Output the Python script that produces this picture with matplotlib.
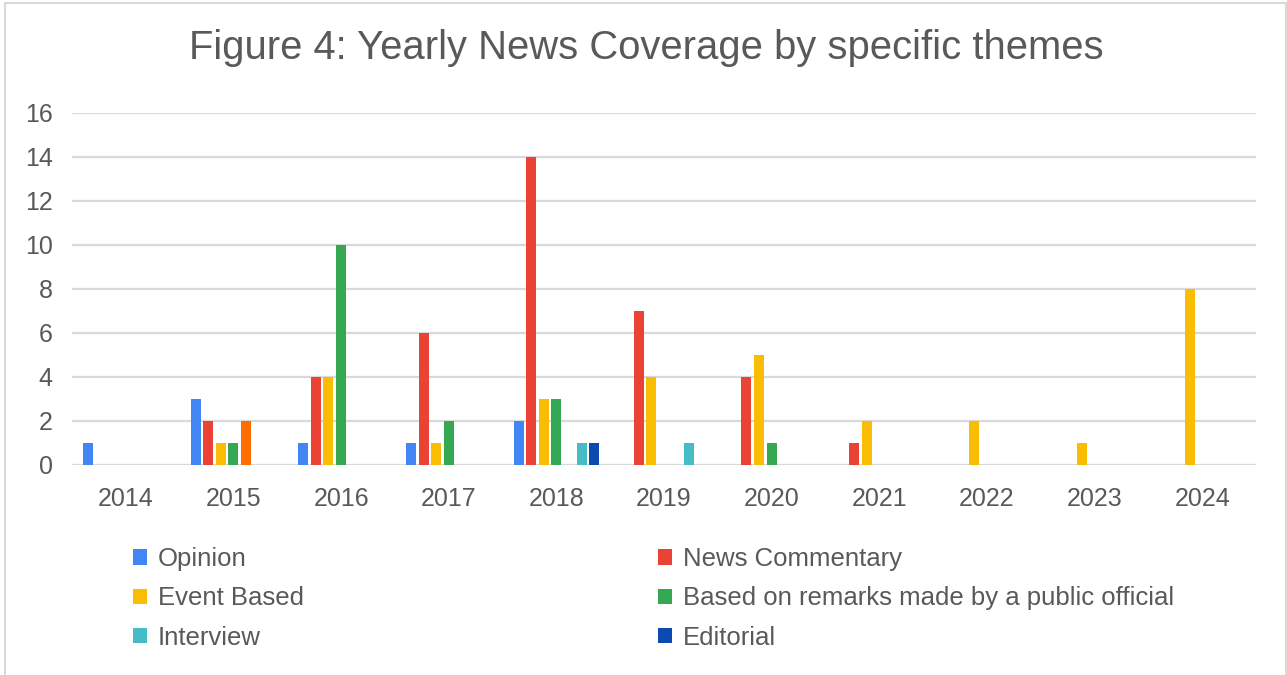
import matplotlib

matplotlib.use("Agg")

import matplotlib.pyplot as plt
import numpy as np
from matplotlib.lines import Line2D
from matplotlib.patches import Patch


years = ["2014", "2015", "2016", "2017", "2018", "2019", "2020", "2021", "2022", "2023", "2024"]

opinion = [1, 3, 1, 1, 2, 0, 0, 0, 0, 0, 0]
news_commentary = [0, 2, 4, 6, 14, 7, 4, 1, 0, 0, 0]
event_based = [0, 1, 4, 1, 3, 4, 5, 2, 2, 1, 8]
public_official = [0, 1, 10, 2, 3, 0, 1, 0, 0, 0, 0]
unlabelled = [0, 2, 0, 0, 0, 0, 0, 0, 0, 0, 0]  # legend entry is cut off in the source
interview = [0, 0, 0, 0, 1, 1, 0, 0, 0, 0, 0]
editorial = [0, 0, 0, 0, 1, 0, 0, 0, 0, 0, 0]

series = [
    ("Opinion", opinion, "#4285F4"),
    ("News Commentary", news_commentary, "#EA4335"),
    ("Event Based", event_based, "#FBBC04"),
    ("Based on remarks made by a public official", public_official, "#34A853"),
    (None, unlabelled, "#FF6D01"),
    ("Interview", interview, "#46BDC6"),
    ("Editorial", editorial, "#0B4AAF"),
]

TEXT = "#595959"
GRID = "#D9D9D9"

plt.rcParams["font.family"] = ["Liberation Sans", "DejaVu Sans"]

fig = plt.figure(figsize=(12.87, 6.75), dpi=100, facecolor="white")
ax = fig.add_axes([72 / 1287, 1 - 465 / 675, (1256 - 72) / 1287, (465 - 113) / 675])

x = np.arange(len(years))
slot = 12.6 / 107.6
bar_w = 10 / 107.6
n = len(series)

for i, (label, vals, color) in enumerate(series):
    offs = (i - (n - 1) / 2) * slot
    ax.bar(x + offs, vals, width=bar_w, color=color, zorder=3)

ax.set_xlim(-0.5, len(years) - 0.5)
ax.set_ylim(0, 16)
ax.set_yticks(range(0, 17, 2))
ax.set_xticks(x)
ax.set_xticklabels(years)
ax.tick_params(axis="both", length=0, labelsize=18, colors=TEXT)
ax.tick_params(axis="y", pad=14)
ax.tick_params(axis="x", pad=16)
ax.grid(axis="y", color=GRID, linewidth=1.6, zorder=0)
for spine in ax.spines.values():
    spine.set_visible(False)

fig.text(646 / 1287, 1 - 48 / 675, "Figure 4: Yearly News Coverage by specific themes",
         ha="center", va="center", fontsize=28.8, color=TEXT)

# legend, two columns filled row by row
named = [(lab, col) for lab, _, col in series if lab]
left_col = named[0::2]
right_col = named[1::2]


def make_legend(items, x0):
    handles = [Patch(facecolor=c, edgecolor="none", label=l) for l, c in items]
    leg = fig.legend(
        handles=handles,
        loc="upper left",
        bbox_to_anchor=(x0 / 1287, 1 - 547 / 675),
        frameon=False,
        fontsize=18.5,
        labelcolor=TEXT,
        handlelength=0.55,
        handleheight=0.55,
        handletextpad=0.42,
        labelspacing=0.6,
        borderpad=0,
        borderaxespad=0,
    )
    return leg


make_legend(left_col, 133)
make_legend(right_col, 658)

# outer chart border (bottom edge is cropped in the source)
border = dict(color=GRID, linewidth=1.5, transform=fig.transFigure)
fig.add_artist(Line2D([5 / 1287, 5 / 1287], [0, 1 - 3 / 675], **border))
fig.add_artist(Line2D([5 / 1287, 1286 / 1287], [1 - 3 / 675, 1 - 3 / 675], **border))
fig.add_artist(Line2D([1286 / 1287, 1286 / 1287], [0, 1 - 3 / 675], **border))

fig.savefig("out.png", dpi=100)
